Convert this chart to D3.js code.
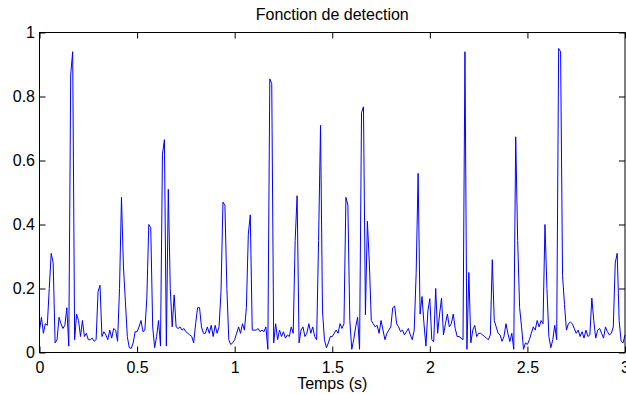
<!DOCTYPE html>
<html>
<head>
<meta charset="utf-8">
<script src="https://cdn.jsdelivr.net/npm/d3@7"></script>
<style>
  html, body { margin: 0; padding: 0; background: #fff; }
  svg { display: block; font-family: "Liberation Sans", Arial, sans-serif; }
</style>
</head>
<body>
<div id="chart"></div>
<script>
// detection function, one sample every 10 ms from 0 to 3 s
const dt = 0.01;
const detection = [
  0.07, 0.11, 0.06, 0.09, 0.085, 0.20, 0.31, 0.28, 0.03, 0.04,
  0.11, 0.09, 0.075, 0.085, 0.14, 0.02, 0.87, 0.94, 0.04, 0.12,
  0.10, 0.05, 0.10, 0.05, 0.06, 0.04, 0.04, 0.045, 0.035, 0.04,
  0.19, 0.21, 0.05, 0.065, 0.055, 0.04, 0.07, 0.045, 0.075, 0.07,
  0.035, 0.20, 0.485, 0.27, 0.16, 0.05, 0.015, 0.013, 0.03, 0.065,
  0.065, 0.08, 0.10, 0.065, 0.07, 0.17, 0.40, 0.39, 0.08, 0.015,
  0.05, 0.10, 0.02, 0.62, 0.665, 0.02, 0.51, 0.20, 0.08, 0.18,
  0.08, 0.075, 0.08, 0.07, 0.075, 0.065, 0.06, 0.055, 0.05, 0.03,
  0.09, 0.14, 0.14, 0.08, 0.06, 0.06, 0.08, 0.06, 0.085, 0.05,
  0.085, 0.06, 0.08, 0.19, 0.47, 0.46, 0.20, 0.04, 0.025, 0.03,
  0.04, 0.06, 0.08, 0.06, 0.09, 0.07, 0.14, 0.37, 0.43, 0.07,
  0.07, 0.07, 0.075, 0.065, 0.07, 0.065, 0.08, 0.01, 0.855, 0.84,
  0.03, 0.09, 0.04, 0.07, 0.05, 0.065, 0.045, 0.055, 0.05, 0.08,
  0.06, 0.35, 0.49, 0.03, 0.07, 0.08, 0.05, 0.06, 0.09, 0.06,
  0.08, 0.05, 0.04, 0.35, 0.71, 0.13, 0.04, 0.015, 0.03, 0.05,
  0.05, 0.06, 0.07, 0.06, 0.09, 0.075, 0.09, 0.485, 0.46, 0.10,
  0.01, 0.04, 0.08, 0.11, 0.01, 0.75, 0.768, 0.118, 0.41, 0.28,
  0.10, 0.09, 0.08, 0.085, 0.06, 0.10, 0.07, 0.04, 0.06, 0.07,
  0.08, 0.14, 0.145, 0.09, 0.08, 0.065, 0.07, 0.055, 0.065, 0.075,
  0.055, 0.04, 0.07, 0.25, 0.56, 0.12, 0.175, 0.09, 0.02, 0.13,
  0.168, 0.04, 0.034, 0.20, 0.06, 0.12, 0.17, 0.055, 0.09, 0.12,
  0.08, 0.09, 0.12, 0.075, 0.05, 0.05, 0.045, 0.04, 0.94, 0.01,
  0.25, 0.03, 0.07, 0.085, 0.05, 0.06, 0.06, 0.055, 0.05, 0.045,
  0.04, 0.055, 0.29, 0.10, 0.08, 0.06, 0.055, 0.035, 0.05, 0.09,
  0.06, 0.034, 0.06, 0.01, 0.674, 0.35, 0.14, 0.08, 0.01, 0.03,
  0.025, 0.04, 0.06, 0.08, 0.07, 0.10, 0.08, 0.10, 0.09, 0.40,
  0.20, 0.05, 0.015, 0.04, 0.085, 0.04, 0.95, 0.94, 0.24, 0.15,
  0.07, 0.09, 0.095, 0.09, 0.075, 0.06, 0.07, 0.05, 0.065, 0.045,
  0.07, 0.05, 0.055, 0.17, 0.10, 0.045, 0.07, 0.075, 0.06, 0.045,
  0.08, 0.065, 0.055, 0.06, 0.08, 0.28, 0.31, 0.10, 0.035, 0.03,
  0.055
];

const xTicks = [0, 0.5, 1, 1.5, 2, 2.5, 3];
const xTickLabels = ["0", "0.5", "1", "1.5", "2", "2.5", "3"];
const yTicks = [0, 0.2, 0.4, 0.6, 0.8, 1];
const yTickLabels = ["0", "0.2", "0.4", "0.6", "0.8", "1"];

const title = "Fonction de detection";
const xLabel = "Temps (s)";

// layout
const W = 626, H = 394;
const pLeft = 39.5, pRight = 625, pTop = 32.5, pBottom = 352.5;
const tick = 6;

const svg = d3.select("#chart").append("svg")
  .attr("width", W).attr("height", H);

const x = d3.scaleLinear().domain([0, 3]).range([pLeft, pRight]);
const y = d3.scaleLinear().domain([0, 1]).range([pBottom, pTop]);

// the curve
const line = d3.line()
  .x((d, i) => x(i * dt))
  .y(d => y(d));

svg.append("path")
  .datum(detection)
  .attr("fill", "none")
  .attr("stroke", "#0000ff")
  .attr("stroke-width", 1)
  .attr("stroke-linejoin", "round")
  .attr("d", line);

// axes, ticks pointing inwards on all four sides
const fmt = (ticks, labels) => v => labels[ticks.indexOf(v)];

const gx = svg.append("g").attr("transform", `translate(0,${pBottom})`)
  .call(d3.axisBottom(x).tickValues(xTicks).tickFormat(fmt(xTicks, xTickLabels))
    .tickSizeInner(-tick).tickSizeOuter(0).tickPadding(9));
const gy = svg.append("g").attr("transform", `translate(${pLeft},0)`)
  .call(d3.axisLeft(y).tickValues(yTicks).tickFormat(fmt(yTicks, yTickLabels))
    .tickSizeInner(-tick).tickSizeOuter(0).tickPadding(4.5));
const gt = svg.append("g").attr("transform", `translate(0,${pTop})`)
  .call(d3.axisTop(x).tickValues(xTicks).tickFormat("").tickSizeInner(-tick).tickSizeOuter(0));
const gr = svg.append("g").attr("transform", `translate(${pRight},0)`)
  .call(d3.axisRight(y).tickValues(yTicks).tickFormat("").tickSizeInner(-tick).tickSizeOuter(0));

[gx, gy, gt, gr].forEach(g => {
  g.select(".domain").remove();
  g.selectAll(".tick line").attr("stroke", "#000");
  g.selectAll(".tick text").attr("fill", "#000").style("font-size", "16px");
});

// box
svg.append("rect")
  .attr("x", pLeft).attr("y", pTop)
  .attr("width", pRight - pLeft).attr("height", pBottom - pTop)
  .attr("fill", "none").attr("stroke", "#000").attr("stroke-width", 1);

// title + x label
svg.append("text")
  .attr("x", (pLeft + pRight) / 2).attr("y", 19.5)
  .attr("text-anchor", "middle")
  .style("font-size", "16px")
  .text(title);

svg.append("text")
  .attr("x", (pLeft + pRight) / 2).attr("y", 389)
  .attr("text-anchor", "middle")
  .style("font-size", "16px")
  .text(xLabel);
</script>
</body>
</html>
